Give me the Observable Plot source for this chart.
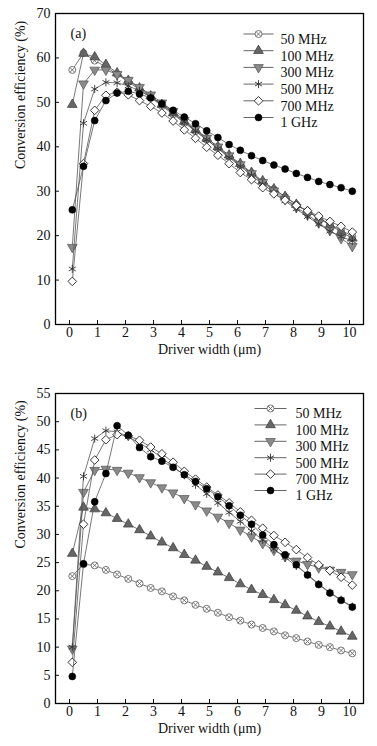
<!DOCTYPE html>
<html><head><meta charset="utf-8">
<script src="https://cdn.jsdelivr.net/npm/d3@7"></script>
<script src="https://cdn.jsdelivr.net/npm/@observablehq/plot@0.6"></script>
<style>body{margin:0;background:#fff;} svg{display:block} svg text{font-family:'Liberation Serif','Times New Roman',serif !important;}</style>
</head><body><div id="chart"></div><script>
const widths = [0.1,0.5,0.9,1.3,1.7,2.1,2.5,2.9,3.3,3.7,4.1,4.5,4.9,5.3,5.7,6.1,6.5,6.9,7.3,7.7,8.1,8.5,8.9,9.3,9.7,10.1];
const seriesNames = ["50 MHz","100 MHz","300 MHz","500 MHz","700 MHz","1 GHz"];

const a50  = [57.3,61.1,59.4,58.0,56.3,54.6,52.9,51.1,49.2,47.3,45.4,43.5,41.6,39.7,37.8,35.9,34.0,32.1,30.4,28.7,27.0,25.5,24.0,22.6,21.2,19.9];
const a100 = [49.5,61.0,60.2,58.5,56.6,54.9,53.2,51.4,49.5,47.6,45.7,43.8,41.9,40.0,38.1,36.2,34.2,32.3,30.5,28.8,27.0,25.4,23.9,22.4,20.9,19.4];
const a300 = [17.4,54.2,57.3,57.3,56.3,55.0,53.4,51.7,49.9,48.0,46.0,44.0,42.0,40.0,38.0,36.0,34.0,32.0,30.1,28.2,26.4,24.7,22.9,21.2,19.4,17.6];
const a500 = [12.5,45.3,53.0,54.5,54.4,53.7,52.6,51.2,49.5,47.6,45.6,43.6,41.6,39.6,37.6,35.6,33.6,31.6,29.7,27.8,26.0,24.3,22.6,21.0,19.8,18.8];
const a700 = [9.7,36.2,48.2,51.6,52.3,51.7,50.4,49.1,47.6,45.8,43.8,41.9,39.9,38.1,36.2,34.2,32.6,30.8,29.4,28.0,26.8,25.6,24.4,23.2,22.1,20.8];
const a1g  = [25.8,35.6,45.9,50.4,52.1,52.5,51.9,51.0,49.7,48.2,46.7,45.2,43.6,42.1,40.5,39.2,38.0,36.9,35.9,35.0,34.0,33.1,32.2,31.5,30.8,30.0];

const b50  = [22.6,24.7,24.5,23.7,22.9,22.1,21.3,20.5,19.9,19.0,18.3,17.5,16.8,16.1,15.3,14.7,14.0,13.4,12.8,12.1,11.6,11.0,10.4,10.0,9.4,8.9];
const b100 = [26.6,34.8,34.5,33.8,32.8,31.8,30.8,29.7,28.6,27.6,26.4,25.4,24.3,23.3,22.3,21.2,20.2,19.3,18.4,17.5,16.5,15.5,14.5,13.7,12.8,11.9];
const b300 = [9.7,37.5,41.4,41.6,41.4,40.9,40.1,39.2,38.3,37.4,36.4,35.3,34.2,33.1,32.0,30.8,29.6,28.4,27.2,26.1,25.3,24.7,24.1,23.7,23.3,22.9];
const b500 = [10.0,40.3,47.0,48.4,48.2,47.3,46.2,45.0,43.6,42.0,40.5,38.8,37.2,35.6,33.9,32.3,30.6,29.0,27.4,25.9,24.4,22.9,21.2,19.7,18.4,17.2];
const b700 = [7.3,31.8,43.2,46.8,47.7,47.5,46.7,45.5,44.3,42.8,41.2,39.8,38.4,37.0,35.6,34.0,32.5,31.1,29.8,28.6,27.3,25.9,24.6,23.6,22.4,21.0];
const b1g  = [4.8,24.8,35.8,40.8,49.3,47.6,45.4,43.8,43.0,41.9,40.6,39.4,38.1,36.7,35.1,33.4,31.8,29.9,28.2,26.4,24.6,22.8,21.1,19.6,18.3,17.1];

const xTicks = [0,1,2,3,4,5,6,7,8,9,10];
const yTicksA = [0,10,20,30,40,50,60,70];
const yTicksB = [0,5,10,15,20,25,30,35,40,45,50,55];

const FONT = "'Liberation Serif', 'Times New Roman', serif";

const triDown = {draw(ctx, size) {
  const h = Math.sqrt(size / (Math.sqrt(3) * 3));
  ctx.moveTo(0, 2 * h);
  ctx.lineTo(-Math.sqrt(3) * h, -h);
  ctx.lineTo(Math.sqrt(3) * h, -h);
  ctx.closePath();
}};
function hline(half) { return {draw(ctx) { ctx.moveTo(-half, 0); ctx.lineTo(half, 0); }}; }

const styles = [
  [{symbol: "circle", fill: "white", stroke: "#6a6a6a", r: 3.5, strokeWidth: 0.9},
   {symbol: "times", stroke: "#6a6a6a", r: 2.3, strokeWidth: 0.9}],
  [{symbol: "triangle", fill: "#666", stroke: "#3a3a3a", r: 3.6, strokeWidth: 0.7}],
  [{symbol: triDown, fill: "#8a8a8a", stroke: "#555", r: 3.6, strokeWidth: 0.7}],
  [{symbol: "asterisk", stroke: "#333", r: 3.8, strokeWidth: 0.9}],
  [{symbol: "diamond2", fill: "white", stroke: "#222", r: 3.9, strokeWidth: 0.9}],
  [{symbol: "circle", fill: "black", stroke: "black", r: 3.5, strokeWidth: 0.5}]
];

function panel({tag, series, yMax, yTicks, height, marginTop, marginBottom, legDx, legDy, legStep, legHalf, legTextDx}) {
  const marks = [];
  series.forEach((vals, i) => {
    const data = widths.map((w, j) => ({w, v: vals[j]}));
    marks.push(Plot.line(data, {x: "w", y: "v", stroke: "#555", strokeWidth: 0.8}));
    for (const st of styles[i]) marks.push(Plot.dot(data, {x: "w", y: "v", ...st}));
  });
  seriesNames.forEach((name, i) => {
    const dy = legDy + i * legStep;
    marks.push(Plot.dot([name], {x: null, y: null, frameAnchor: "top-left", dx: legDx, dy, symbol: hline(legHalf), stroke: "#555", strokeWidth: 0.9, r: 3}));
    for (const st of styles[i]) marks.push(Plot.dot([name], {x: null, y: null, frameAnchor: "top-left", dx: legDx, dy, ...st}));
    marks.push(Plot.text([name], {frameAnchor: "top-left", dx: legTextDx, dy, text: d => d, textAnchor: "start", fontSize: 14, fill: "#111", fontFamily: FONT}));
  });
  marks.push(Plot.text([tag], {frameAnchor: "top-left", dx: 15, dy: 15, text: d => d, textAnchor: "start", fontSize: 14, fontFamily: FONT}));
  marks.push(Plot.text(["Driver width (\u03bcm)"], {frameAnchor: "bottom", dy: 29, text: d => d, fontSize: 14, fontFamily: FONT}));
  marks.push(Plot.text(["Conversion efficiency (%)"], {frameAnchor: "left", dx: -35, rotate: -90, text: d => d, fontSize: 14, fontFamily: FONT}));
  marks.push(Plot.axisX(xTicks, {tickSize: -4, tickPadding: 7, fontSize: 14, label: null, fontFamily: FONT}));
  marks.push(Plot.axisY(yTicks, {tickSize: -4, tickPadding: 9, fontSize: 14, label: null, fontFamily: FONT}));
  marks.push(Plot.frame({stroke: "black", strokeWidth: 1.3}));
  return Plot.plot({
    width: 377, height, marginLeft: 55, marginRight: 14, marginTop, marginBottom,
    style: {fontFamily: FONT, fontSize: "14px", color: "#111", background: "white"},
    x: {domain: [-0.5, 10.5]},
    y: {domain: [0, yMax]},
    marks
  });
}

const el = document.getElementById("chart");
el.append(panel({tag: "(a)", series: [a50,a100,a300,a500,a700,a1g], yMax: 70, yTicks: yTicksA,
  height: 370, marginTop: 13, marginBottom: 46, legDx: 203, legDy: 20.5, legStep: 16.7, legHalf: 15, legTextDx: 225}));
el.append(panel({tag: "(b)", series: [b50,b100,b300,b500,b700,b1g], yMax: 55, yTicks: yTicksB,
  height: 376, marginTop: 23, marginBottom: 43, legDx: 215, legDy: 15, legStep: 16.4, legHalf: 16, legTextDx: 240}));
</script></body></html>
